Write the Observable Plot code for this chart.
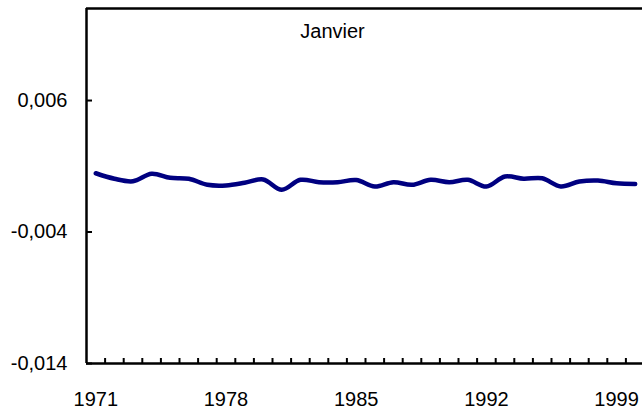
<!DOCTYPE html>
<html>
<head>
<meta charset="utf-8">
<script src="https://cdn.jsdelivr.net/npm/d3@7"></script>
<script src="https://cdn.jsdelivr.net/npm/@observablehq/plot@0.6"></script>
<style>
  body { margin: 0; background: #fff; }
  svg { display: block; }
</style>
</head>
<body>
<div id="chart"></div>
<script>
// Monthly series for January, one value per year
const years = [1971, 1972, 1973, 1974, 1975, 1976, 1977, 1978, 1979, 1980,
               1981, 1982, 1983, 1984, 1985, 1986, 1987, 1988, 1989, 1990,
               1991, 1992, 1993, 1994, 1995, 1996, 1997, 1998, 1999, 2000];
const values = [0.00047, 0.00005, -0.00014, 0.00043, 0.00012, 0.00005, -0.00041, -0.00046, -0.00026, 0.0,
                -0.00079, -0.00003, -0.00021, -0.00021, -0.00005, -0.00054, -0.00021, -0.00041, -0.00003, -0.00021,
                -0.00003, -0.00054, 0.00022, 0.00005, 0.00009, -0.00054, -0.00016, -0.00008, -0.00029, -0.00034];

const yTicks = [0.006, -0.004, -0.014];
const xLabels = [1971, 1978, 1985, 1992, 1999];
const yDomain = [-0.014, 0.013];
const title = "Janvier";

const data = years.map((year, i) => ({year, value: values[i]}));
// tick marks sit on the boundaries between yearly categories
const boundaries = years.slice(0, -1).map(y => y + 0.5);

const fmt = d => d.toFixed(3).replace(".", ",");

const chart = Plot.plot({
  width: 642,
  height: 413,
  marginLeft: 86,
  marginRight: 0,
  marginTop: 8,
  marginBottom: 50,
  x: {domain: [years[0] - 0.5, years[years.length - 1] + 0.5], range: [86, 644], label: null},
  y: {domain: yDomain, label: null},
  style: {fontFamily: "'Liberation Sans', Arial, Helvetica, sans-serif", fontSize: "20px", background: "#fff", color: "#000"},
  marks: [
    Plot.ruleX([years[0] - 0.5], {stroke: "#000", strokeWidth: 2.5}),
    Plot.ruleY([yDomain[0]], {stroke: "#000", strokeWidth: 2.5}),
    Plot.ruleY([yDomain[1]], {stroke: "#000", strokeWidth: 2.5}),
    Plot.axisX(boundaries, {anchor: "bottom", tickSize: 5, dy: -5, strokeWidth: 2, tickFormat: () => "", label: null}),
    Plot.axisX(xLabels, {anchor: "bottom", tickSize: 0, tickPadding: 28, fontSize: 20, tickFormat: d => String(d), label: null}),
    Plot.axisY(yTicks, {anchor: "left", tickSize: 6, dx: 6, strokeWidth: 2, tickFormat: () => "", label: null}),
    Plot.axisY(yTicks, {anchor: "left", tickSize: 0, tickPadding: 19, fontSize: 20, tickFormat: fmt, label: null}),
    Plot.line(data, {x: "year", y: "value", stroke: "#000080", strokeWidth: 4.5, curve: "catmull-rom"}),
    Plot.text([title], {frameAnchor: "top", lineAnchor: "top", dx: -32, dy: 15, fontSize: 20, fill: "#000"})
  ]
});

document.getElementById("chart").appendChild(chart);
</script>
</body>
</html>
